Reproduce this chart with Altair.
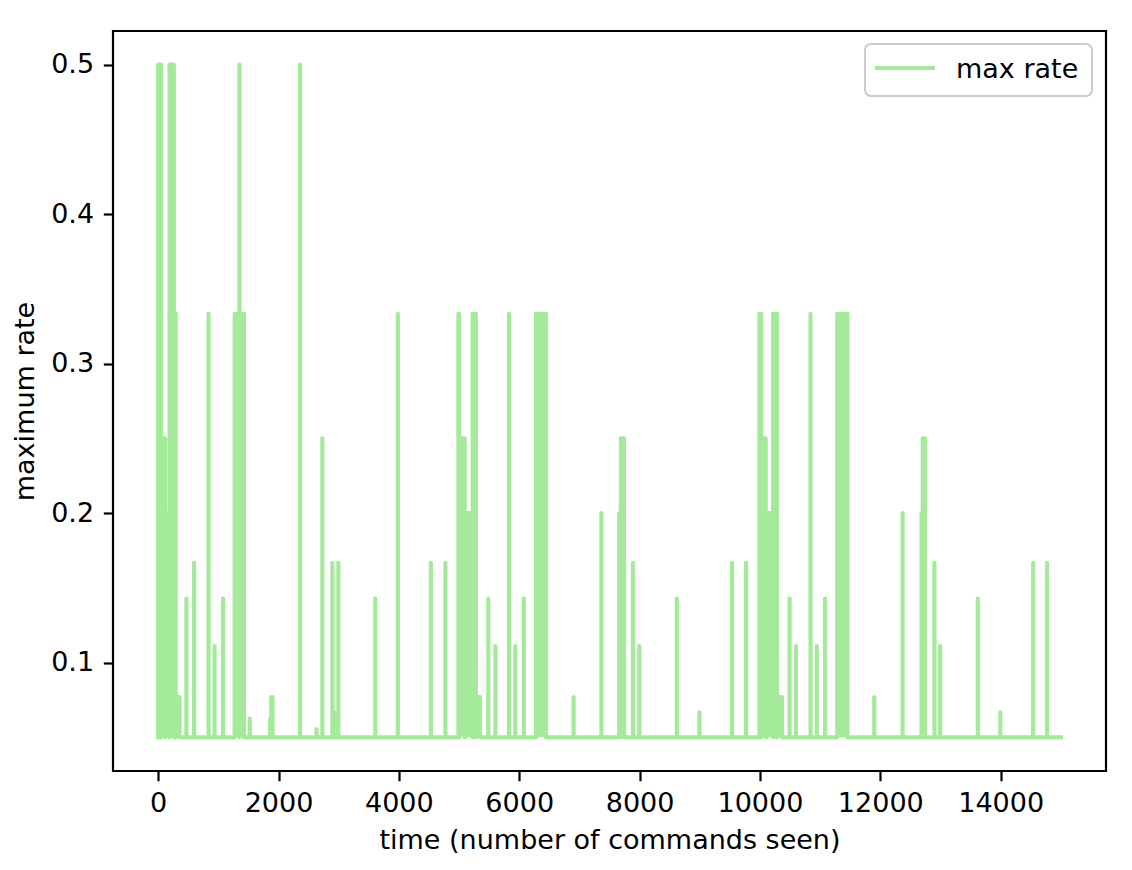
import altair as alt
import pandas as pd

# ---- data: runs where the max rate leaves its 0.05 floor ----
seg_start = [0, 50, 115, 190, 260, 292,
             470, 597, 838, 937, 1079,
             1272, 1351, 1351,
             1523, 1862, 1880, 2360, 2632, 2729, 2895, 2934, 2995,
             3608, 3983, 4532, 4773,
             4990, 5002, 5100, 5227, 5279,
             5486, 5605, 5830, 5935, 6076, 6280,
             6903, 7366, 7662, 7690, 7890, 7996, 8619, 8994, 9537, 9770,
             9991, 10021, 10110, 10219, 10282,
             10492, 10597, 10841, 10944, 11082, 11284,
             11900, 12370, 12685, 12705, 12899, 12996, 13620, 13994, 14540, 14771]
seg_end = [50, 115, 190, 260, 292, 355,
           470, 597, 838, 937, 1079,
           1351, 1351, 1425,
           1523, 1880, 1900, 2360, 2632, 2729, 2895, 2934, 2995,
           3608, 3983, 4532, 4773,
           5002, 5095, 5227, 5279, 5350,
           5486, 5605, 5830, 5935, 6076, 6443,
           6903, 7366, 7690, 7740, 7890, 7996, 8619, 8994, 9537, 9770,
           10021, 10095, 10219, 10282, 10365,
           10492, 10597, 10841, 10944, 11082, 11452,
           11900, 12370, 12705, 12740, 12899, 12996, 13620, 13994, 14540, 14771]
seg_value = [0.5, 0.25, 0.2, 0.5, 0.3333, 0.0769,
             0.1429, 0.1667, 0.3333, 0.1111, 0.1429,
             0.3333, 0.5, 0.3333,
             0.0625, 0.0625, 0.0769, 0.5, 0.0556, 0.25, 0.1667, 0.0667, 0.1667,
             0.1429, 0.3333, 0.1667, 0.1667,
             0.3333, 0.25, 0.2, 0.3333, 0.0769,
             0.1429, 0.1111, 0.3333, 0.1111, 0.1429, 0.3333,
             0.0769, 0.2, 0.2, 0.25, 0.1667, 0.1111, 0.1429, 0.0667, 0.1667, 0.1667,
             0.3333, 0.25, 0.2, 0.3333, 0.0769,
             0.1429, 0.1111, 0.3333, 0.1111, 0.1429, 0.3333,
             0.0769, 0.2, 0.2, 0.25, 0.1667, 0.1111, 0.1429, 0.0667, 0.1667, 0.1667]
BASE = 0.05
T_END = 15000
x_ticks = [0, 2000, 4000, 6000, 8000, 10000, 12000, 14000]
y_ticks = [0.1, 0.2, 0.3, 0.4, 0.5]
SERIES = "max rate"

rows = []


def add(t, v):
    rows.append({"t": t, "rate": v, "i": len(rows)})


add(0, BASE)
for s, e, v in zip(seg_start, seg_end, seg_value):
    add(s, BASE)
    add(s, v)
    add(e, v)
    add(e, BASE)
add(T_END, BASE)
df = pd.DataFrame(rows)

seg_df = pd.DataFrame({"s": seg_start, "e": seg_end, "v": seg_value,
                       "base": [BASE] * len(seg_start)})

GREEN = "#a5e99b"
FONT = "DejaVu Sans"
FS = 27

xs = alt.Scale(domain=[-750, 15750], nice=False, zero=False)
ys = alt.Scale(domain=[0.0275, 0.5225], nice=False, zero=False)
x_enc = alt.X("t:Q", scale=xs,
              axis=alt.Axis(values=x_ticks, format="d",
                            title="time (number of commands seen)"))
y_enc = alt.Y("rate:Q", scale=ys,
              axis=alt.Axis(values=y_ticks, format=".1f", title="maximum rate"))

fill = alt.Chart(seg_df).mark_rect(color=GREEN, clip=True).encode(
    x=alt.X("s:Q", scale=xs), x2="e:Q",
    y=alt.Y("v:Q", scale=ys), y2="base:Q")
line = alt.Chart(df).mark_line(color=GREEN, strokeWidth=4.2, strokeJoin="round",
                               strokeCap="square", clip=True).encode(
    x=x_enc, y=y_enc, order="i:Q")

one = pd.DataFrame({"label": [SERIES]})
legend_box = alt.Chart(one).mark_rect(
    fill="white", fillOpacity=0.8, stroke="#cccccc", strokeWidth=2, cornerRadius=6
).encode(x=alt.value(752), x2=alt.value(979), y=alt.value(13), y2=alt.value(65))
legend_line = alt.Chart(one).mark_rule(color=GREEN, strokeWidth=4.2).encode(
    x=alt.value(762), x2=alt.value(822), y=alt.value(37))
legend_text = alt.Chart(one).mark_text(
    align="left", baseline="middle", font=FONT, fontSize=FS, color="black"
).encode(x=alt.value(843), y=alt.value(39), text="label:N")

chart = alt.layer(line, fill, legend_box, legend_line, legend_text).properties(
    width=993, height=740,
    autosize=alt.AutoSizeParams(type="none"),
    padding={"left": 105, "top": 23, "right": 10, "bottom": 85},
).configure_view(
    stroke="black", strokeWidth=2.2
).configure_axis(
    domain=False, grid=False,
    labelFont=FONT, labelFontSize=FS, labelColor="black",
    tickColor="black", tickWidth=2.2, tickSize=9.7, labelPadding=9.7,
    titleFont=FONT, titleFontSize=FS, titleFontWeight="normal", titleColor="black",
    titlePadding=11,
)

chart.save("out.html", embed_options={"renderer": "svg", "actions": False})
